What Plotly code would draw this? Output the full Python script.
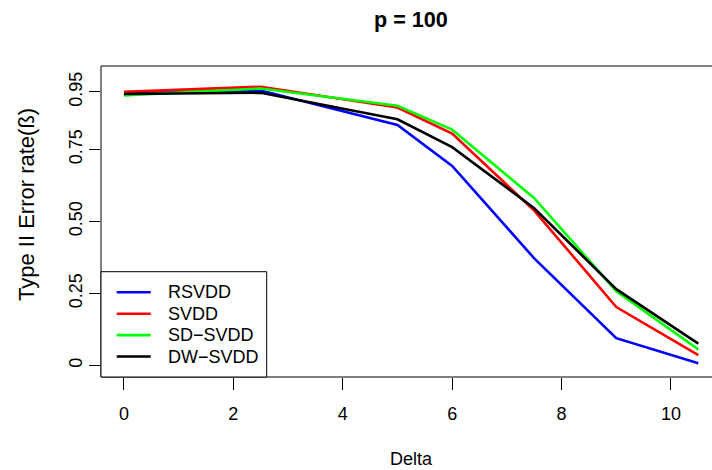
import plotly.graph_objects as go

# ---- data ----
delta = [0, 2.5, 5, 6, 7.5, 9, 10.5]
rsvdd = [0.945, 0.955, 0.835, 0.693, 0.372, 0.095, 0.008]
svdd = [0.950, 0.968, 0.896, 0.805, 0.538, 0.203, 0.036]
sdsvdd = [0.938, 0.962, 0.902, 0.819, 0.581, 0.258, 0.056]
dwsvdd = [0.943, 0.947, 0.855, 0.758, 0.546, 0.265, 0.076]
series_names = ["RSVDD", "SVDD", "SD\u2212SVDD", "DW\u2212SVDD"]
series_colors = ["#0000FF", "#FF0000", "#00FF00", "#000000"]
x_ticks = [0, 2, 4, 6, 8, 10]
y_ticks = [0, 0.25, 0.5, 0.75, 0.95]
y_ticktext = ["0", "0.25", "0.50", "0.75", "0.95"]
title_text = "p = 100"
x_title = "Delta"
y_title = "Type II Error rate(\u00df)"

FONT = "Liberation Sans, Arial, sans-serif"
W, H = 712, 470
L, T, B = 101, 66, 93
PW = W - L
PH = H - T - B

def px_x(px):
    return (px - L) / PW

def px_y(py):
    return (H - B - py) / PH

fig = go.Figure()
for name, vals, col in zip(series_names, [rsvdd, svdd, sdsvdd, dwsvdd], series_colors):
    fig.add_trace(go.Scatter(x=delta, y=vals, mode="lines", name=name,
                             line=dict(color=col, width=2.6), showlegend=False))

shapes = [dict(type="rect", xref="paper", yref="paper",
               x0=0, x1=620 / PW, y0=0, y1=1,
               line=dict(color="black", width=1), layer="above")]
# legend box (R-style)
shapes.append(dict(type="rect", xref="paper", yref="paper",
                   x0=px_x(101), x1=px_x(266.7), y0=px_y(377), y1=px_y(271.7),
                   line=dict(color="black", width=1), fillcolor="white",
                   layer="above"))
annotations = [
    dict(text="<b>" + title_text + "</b>", xref="paper", yref="paper",
         x=px_x(411), y=px_y(20), xanchor="center", yanchor="middle",
         showarrow=False, font=dict(family=FONT, size=21.6, color="black")),
    dict(text=x_title, xref="paper", yref="paper",
         x=px_x(411), y=px_y(459), xanchor="center", yanchor="middle",
         showarrow=False, font=dict(family=FONT, size=18, color="black")),
    dict(text=y_title, xref="paper", yref="paper", textangle=-90,
         x=px_x(26), y=px_y(205), xanchor="center", yanchor="middle",
         showarrow=False, font=dict(family=FONT, size=22, color="black")),
]
row_y = [292.3, 313.7, 335.1, 356.5]
for name, col, ry in zip(series_names, series_colors, row_y):
    shapes.append(dict(type="line", xref="paper", yref="paper",
                       x0=px_x(116.7), x1=px_x(150.7), y0=px_y(ry), y1=px_y(ry),
                       line=dict(color=col, width=2.6), layer="above"))
    annotations.append(dict(text=name, xref="paper", yref="paper",
                            x=px_x(165.5), y=px_y(ry), xanchor="left",
                            yanchor="middle", showarrow=False,
                            font=dict(family=FONT, size=18, color="black")))

fig.update_layout(
    width=W, height=H,
    margin=dict(l=L, r=0, t=T, b=B, pad=0),
    plot_bgcolor="white", paper_bgcolor="white",
    font=dict(family=FONT, size=18, color="black"),
    showlegend=False,
    xaxis=dict(range=[-0.42, -0.42 + PW / 54.7], tickvals=x_ticks,
               ticks="outside", ticklen=12, tickcolor="black", tickwidth=1,
               ticklabelstandoff=8,
               showgrid=False, zeroline=False, showline=False,
               tickfont=dict(family=FONT, size=18, color="black")),
    yaxis=dict(range=[-0.04, 1.04], tickvals=y_ticks, ticktext=y_ticktext,
               ticks="outside", ticklen=11, tickcolor="black", tickwidth=1,
               tickangle=-90,
               showgrid=False, zeroline=False, showline=False,
               tickfont=dict(family=FONT, size=18, color="black")),
    shapes=shapes,
    annotations=annotations,
)

fig.write_html("out.html")
